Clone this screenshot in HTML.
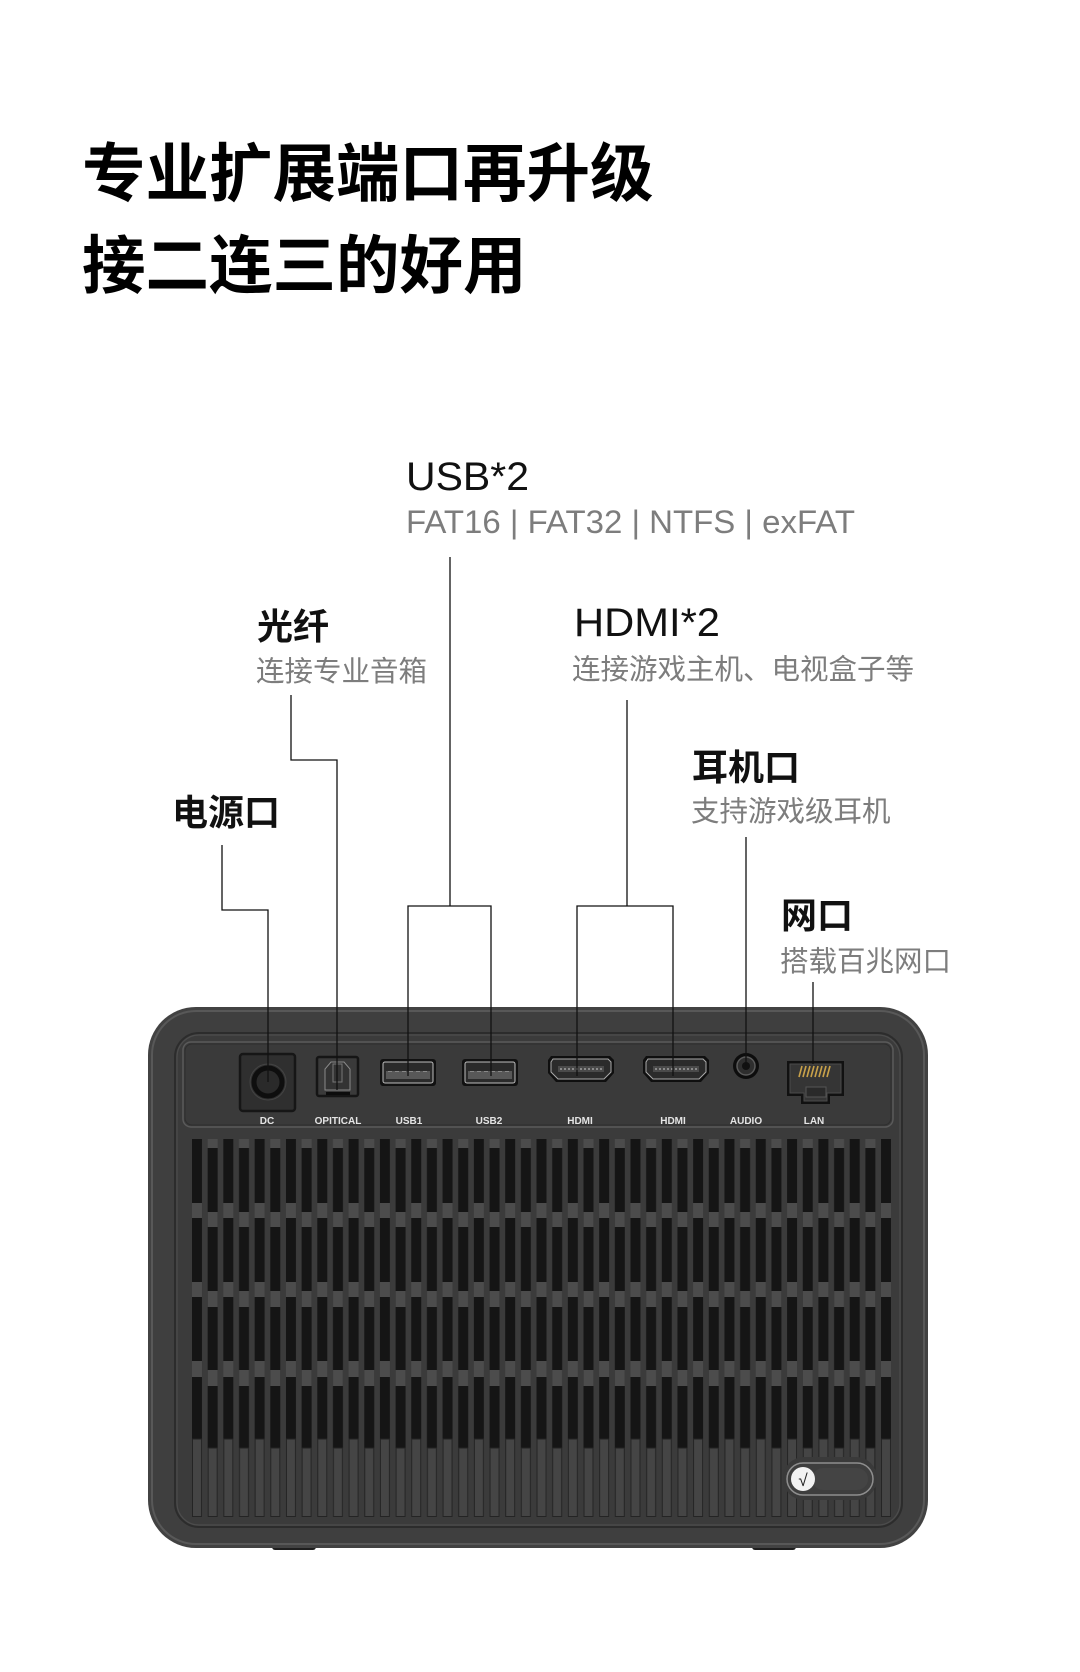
<!DOCTYPE html>
<html>
<head>
<meta charset="utf-8">
<style>
html,body{margin:0;padding:0;background:#fff;}
svg{display:block}
.t{font-family:"Liberation Sans","Noto Sans CJK SC",sans-serif;}
</style>
</head>
<body>
<svg width="1080" height="1672" viewBox="0 0 1080 1672" xmlns="http://www.w3.org/2000/svg">
<defs>
  <pattern id="grille" patternUnits="userSpaceOnUse" x="192" y="1139" width="31.32" height="378">
    <rect x="0" y="0" width="10" height="300" fill="#151515"/>
    <rect x="0" y="64" width="10" height="15" fill="#4c4c4c"/>
    <rect x="0" y="143" width="10" height="15" fill="#4c4c4c"/>
    <rect x="0" y="222" width="10" height="16" fill="#4c4c4c"/>
    <rect x="0.5" y="300" width="9" height="77.5" fill="#454545" stroke="#242424" stroke-width="1"/>
    <rect x="15.66" y="0" width="10" height="9" fill="#4c4c4c"/>
    <rect x="15.66" y="9" width="10" height="300" fill="#151515"/>
    <rect x="15.66" y="73" width="10" height="15" fill="#4c4c4c"/>
    <rect x="15.66" y="152" width="10" height="16" fill="#4c4c4c"/>
    <rect x="15.66" y="231" width="10" height="16" fill="#4c4c4c"/>
    <rect x="16.16" y="309" width="9" height="68.5" fill="#454545" stroke="#242424" stroke-width="1"/>
  </pattern>
</defs>

<!-- Title -->
<g class="t" font-weight="700" font-size="63.5" fill="#000">
  <text x="82" y="196">专业扩展端口再升级</text>
  <text x="82" y="288">接二连三的好用</text>
</g>

<!-- USB label -->
<text class="t" x="406" y="490" font-size="40" fill="#111" textLength="123" lengthAdjust="spacingAndGlyphs">USB*2</text>
<text class="t" x="406" y="533" font-size="32" fill="#7d7d7d" textLength="449" lengthAdjust="spacingAndGlyphs">FAT16 | FAT32 | NTFS | exFAT</text>

<!-- HDMI label -->
<text class="t" x="574" y="636" font-size="40" fill="#111" textLength="146" lengthAdjust="spacingAndGlyphs">HDMI*2</text>
<text class="t" x="572" y="679" font-size="28.5" fill="#7d7d7d">连接游戏主机、电视盒子等</text>

<!-- Optical label -->
<text class="t" x="257" y="639" font-size="36" font-weight="700" fill="#111">光纤</text>
<text class="t" x="256" y="681" font-size="28.5" fill="#7d7d7d">连接专业音箱</text>

<!-- Power label -->
<text class="t" x="172" y="825" font-size="36" font-weight="700" fill="#111">电源口</text>

<!-- Earphone label -->
<text class="t" x="692" y="780" font-size="36" font-weight="700" fill="#111">耳机口</text>
<text class="t" x="691" y="821" font-size="28.5" fill="#7d7d7d">支持游戏级耳机</text>

<!-- LAN label -->
<text class="t" x="781" y="928" font-size="36" font-weight="700" fill="#111">网口</text>
<text class="t" x="780" y="971" font-size="28.5" fill="#7d7d7d">搭载百兆网口</text>

<!-- Device body -->
<rect x="272" y="1543" width="44" height="7" rx="3" fill="#1e1e1e"/>
<rect x="752" y="1543" width="44" height="7" rx="3" fill="#1e1e1e"/>
<rect x="148" y="1007" width="780" height="541" rx="48" fill="#424242"/>
<rect x="152" y="1011" width="772" height="533" rx="44" fill="#3f3f3f" stroke="#585858" stroke-width="2"/>
<rect x="175" y="1033" width="727" height="494" rx="24" fill="#3b3b3b" stroke="#2c2c2c" stroke-width="2"/>
<rect x="177" y="1035" width="723" height="490" rx="22" fill="none" stroke="#4c4c4c" stroke-width="1.2"/>

<!-- Port panel -->
<rect x="183" y="1042" width="710" height="85" rx="8" fill="#3a3a3a" stroke="#5a5a5a" stroke-width="1.5"/>
<rect x="185" y="1044" width="706" height="81" rx="7" fill="none" stroke="#2e2e2e" stroke-width="1"/>

<!-- Grille -->
<rect x="192" y="1139" width="699" height="378" fill="url(#grille)"/>

<!-- Badge -->
<rect x="783" y="1457" width="94" height="43" rx="21" fill="#3a3a3a"/>
<rect x="787" y="1463" width="86" height="32" rx="16" fill="#3e3e3e" stroke="#8e8e8e" stroke-width="1.5"/>
<rect x="812" y="1468" width="56" height="22" rx="11" fill="#444"/>
<circle cx="803" cy="1479" r="12" fill="#f2f2f2"/>
<text class="t" x="803" y="1486" font-size="17" text-anchor="middle" fill="#222">√</text>

<!-- DC -->
<rect x="240" y="1054" width="55" height="57" rx="3" fill="#2f2f2f" stroke="#161616" stroke-width="2.5"/>
<circle cx="268" cy="1082" r="18" fill="none" stroke="#444" stroke-width="1"/>
<circle cx="268" cy="1082" r="14" fill="#2a2a2a" stroke="#0e0e0e" stroke-width="5"/>

<!-- Optical -->
<rect x="317" y="1057" width="41" height="39" rx="2" fill="#3a3a3a" stroke="#151515" stroke-width="2.5"/>
<path d="M325 1090 V1069 L331 1062 H344 L350 1069 V1090 Z" fill="#333" stroke="#8a8a8a" stroke-width="1"/>
<rect x="333" y="1064" width="9" height="18" fill="none" stroke="#777" stroke-width="1"/>
<rect x="326" y="1092" width="24" height="3" fill="#0c0c0c"/>

<!-- USB1 -->
<rect x="380" y="1059" width="56" height="27" rx="3" fill="#111"/>
<rect x="383" y="1062" width="50" height="21" rx="2" fill="#2a2a2a" stroke="#bdbdbd" stroke-width="1"/>
<rect x="386" y="1071" width="44" height="8" fill="#585858"/>
<line x1="388" y1="1071.5" x2="428" y2="1071.5" stroke="#888" stroke-width="1" stroke-dasharray="4 3"/>
<!-- USB2 -->
<rect x="462" y="1059" width="56" height="27" rx="3" fill="#111"/>
<rect x="465" y="1062" width="50" height="21" rx="2" fill="#2a2a2a" stroke="#bdbdbd" stroke-width="1"/>
<rect x="468" y="1071" width="44" height="8" fill="#585858"/>
<line x1="470" y1="1071.5" x2="510" y2="1071.5" stroke="#888" stroke-width="1" stroke-dasharray="4 3"/>

<!-- HDMI 1 -->
<path d="M551 1056 H610 L614 1060 V1073 L606 1082 H556 L548 1073 V1060 Z" fill="#0f0f0f"/>
<path d="M553 1059 H608 L611 1062 V1072 L604 1079 H558 L551 1072 V1062 Z" fill="#2b2b2b" stroke="#aaa" stroke-width="1"/>
<rect x="558" y="1066" width="46" height="6" fill="#4a4a4a"/>
<line x1="560" y1="1069" x2="602" y2="1069" stroke="#b0b0b0" stroke-width="1.2" stroke-dasharray="2 2"/>
<!-- HDMI 2 -->
<path d="M646 1056 H705 L709 1060 V1073 L701 1082 H651 L643 1073 V1060 Z" fill="#0f0f0f"/>
<path d="M648 1059 H703 L706 1062 V1072 L699 1079 H653 L646 1072 V1062 Z" fill="#2b2b2b" stroke="#aaa" stroke-width="1"/>
<rect x="653" y="1066" width="46" height="6" fill="#4a4a4a"/>
<line x1="655" y1="1069" x2="697" y2="1069" stroke="#b0b0b0" stroke-width="1.2" stroke-dasharray="2 2"/>

<!-- Audio -->
<circle cx="746" cy="1066" r="13" fill="#0d0d0d"/>
<circle cx="746" cy="1066" r="9" fill="#2e2e2e" stroke="#5a5a5a" stroke-width="1.5"/>
<circle cx="746" cy="1066" r="4" fill="#111"/>

<!-- LAN -->
<path d="M787 1061 H844 V1096 H830 V1104 H801 V1096 H787 Z" fill="#111"/>
<path d="M790 1064 H841 V1093 H827 V1101 H804 V1093 H790 Z" fill="#353535" stroke="#4a4a4a" stroke-width="1"/>
<g stroke="#c9a24a" stroke-width="1.6">
  <line x1="799" y1="1077" x2="802" y2="1066"/>
  <line x1="803" y1="1077" x2="806" y2="1066"/>
  <line x1="807" y1="1077" x2="810" y2="1066"/>
  <line x1="811" y1="1077" x2="814" y2="1066"/>
  <line x1="815" y1="1077" x2="818" y2="1066"/>
  <line x1="819" y1="1077" x2="822" y2="1066"/>
  <line x1="823" y1="1077" x2="826" y2="1066"/>
  <line x1="827" y1="1077" x2="830" y2="1066"/>
</g>
<rect x="806" y="1087" width="20" height="10" fill="#2a2a2a" stroke="#555" stroke-width="1"/>

<!-- Port labels -->
<g font-family="Liberation Sans, sans-serif" font-weight="700" font-size="10" fill="#e4e4e4" text-anchor="middle">
  <text x="267" y="1124">DC</text>
  <text x="338" y="1124">OPITICAL</text>
  <text x="409" y="1124">USB1</text>
  <text x="489" y="1124">USB2</text>
  <text x="580" y="1124">HDMI</text>
  <text x="673" y="1124">HDMI</text>
  <text x="746" y="1124">AUDIO</text>
  <text x="814" y="1124">LAN</text>
</g>

<!-- Connector lines -->
<g fill="none" stroke="#111" stroke-width="1.3">
  <path d="M222 845 V910 H268 V1082"/>
  <path d="M291 695 V760 H337 V1090"/>
  <path d="M450 557 V906"/>
  <path d="M408 1076 V906 H491 V1076"/>
  <path d="M627 700 V906"/>
  <path d="M577 1076 V906 H673 V1076"/>
  <path d="M746 837 V1066"/>
  <path d="M813 982 V1064"/>
</g>
</svg>
</body>
</html>
